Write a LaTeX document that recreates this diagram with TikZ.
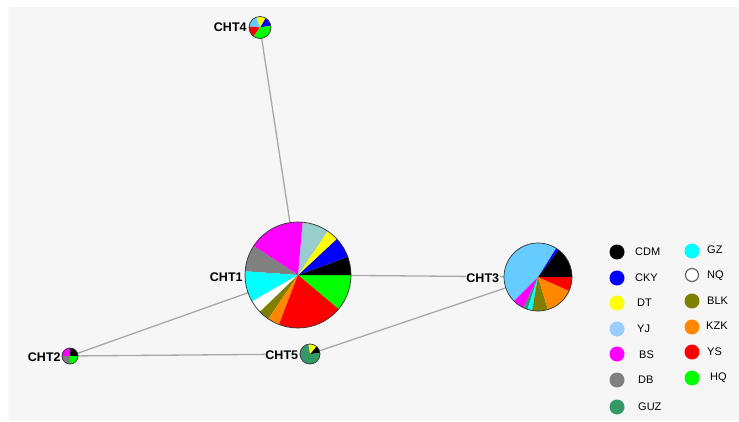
\documentclass[tikz,border=0pt]{standalone}
\usepackage{fontspec}
\setmainfont{Liberation Sans}
\definecolor{bg}{HTML}{F6F6F6}
\definecolor{edgec}{HTML}{A8A8A8}
\definecolor{cCDM}{HTML}{000000}
\definecolor{cCKY}{HTML}{0000FF}
\definecolor{cDT}{HTML}{FFFF00}
\definecolor{cYJ}{HTML}{99CCFF}
\definecolor{cYJa}{HTML}{99CCCC}
\definecolor{cYJb}{HTML}{66CCFF}
\definecolor{cBS}{HTML}{FF00FF}
\definecolor{cGUZ}{HTML}{339966}
\definecolor{cBLK}{HTML}{808000}
\definecolor{cKZK}{HTML}{FF8800}
\definecolor{cYS}{HTML}{FF0000}
\definecolor{cDB}{HTML}{808080}
\definecolor{cHQ}{HTML}{00FF00}
\definecolor{cGZ}{HTML}{00FFFF}
\newcommand\pieslice[5]{\fill[#5] (#1.center) -- ++(#3:#2) arc[start angle=#3,end angle=#4,radius=#2] -- cycle;}
\tikzset{
  hap/.style={circle,inner sep=0pt,minimum size=#1},
  link/.style={draw=edgec,line width=1.3pt},
  pieout/.style={draw=black!80,line width=0.7pt},
  lbl/.style={font=\bfseries\fontsize{12.5}{14}\selectfont,fill=bg,inner sep=0.5pt,anchor=east},
  legdot/.style={circle,inner sep=0pt,minimum size=15pt},
  legtxt/.style={font=\fontsize{11}{13}\selectfont,anchor=west,inner sep=0pt}
}
\begin{document}
\begin{tikzpicture}[x=1pt,y=1pt]
\useasboundingbox (0,0) rectangle (739,421);
\fill[white] (0,0) rectangle (739,421);
\fill[bg] (9,1) rectangle (739,414);
% node placeholders
\node[hap=106pt] (c1) at (298,146) {};
\node[hap=68pt] (c3) at (538,144) {};
\node[hap=22pt] (c4) at (260,393.5) {};
\node[hap=16pt] (c2) at (70,65) {};
\node[hap=20pt] (c5) at (310,67) {};
% edges
\draw[link] (c4.center) -- (c1.center);
\draw[link] (c1.center) -- (c3.center);
\draw[link] (c2.center) -- (c1.center);
\draw[link] (c2.center) -- (c5.center);
\draw[link] (c5.center) -- (c3.center);
% CHT1
\pieslice{c1}{53}{-40}{0}{cHQ}
\pieslice{c1}{53}{0}{20}{cCDM}
\pieslice{c1}{53}{20}{43}{cCKY}
\pieslice{c1}{53}{43}{56}{cDT}
\pieslice{c1}{53}{56}{85}{cYJa}
\pieslice{c1}{53}{85}{147}{cBS}
\pieslice{c1}{53}{147}{176}{cDB}
\pieslice{c1}{53}{176}{210}{cGZ}
\pieslice{c1}{53}{210}{224}{white}
\pieslice{c1}{53}{224}{236}{cBLK}
\pieslice{c1}{53}{236}{249}{cKZK}
\pieslice{c1}{53}{249}{320}{cYS}
\draw[pieout] (c1.center) circle[radius=53];
% CHT3
\pieslice{c3}{34}{0}{53}{cCDM}
\pieslice{c3}{34}{53}{58}{cCKY}
\pieslice{c3}{34}{58}{225}{cYJb}
\pieslice{c3}{34}{225}{245}{cBS}
\pieslice{c3}{34}{245}{252}{cGUZ}
\pieslice{c3}{34}{252}{260}{cGZ}
\pieslice{c3}{34}{260}{287}{cBLK}
\pieslice{c3}{34}{287}{336}{cKZK}
\pieslice{c3}{34}{336}{360}{cYS}
\draw[pieout] (c3.center) circle[radius=34];
% CHT4
\pieslice{c4}{11}{10}{60}{cCKY}
\pieslice{c4}{11}{60}{110}{cDT}
\pieslice{c4}{11}{110}{175}{cYJb}
\pieslice{c4}{11}{175}{235}{cYS}
\pieslice{c4}{11}{235}{370}{cHQ}
\draw[pieout] (c4.center) circle[radius=11];
% CHT2
\pieslice{c2}{8}{0}{90}{cCDM}
\pieslice{c2}{8}{90}{180}{cBS}
\pieslice{c2}{8}{180}{270}{cDB}
\pieslice{c2}{8}{270}{360}{cHQ}
\draw[pieout] (c2.center) circle[radius=8];
% CHT5
\pieslice{c5}{10}{5}{50}{cCDM}
\pieslice{c5}{10}{50}{100}{cDT}
\pieslice{c5}{10}{100}{365}{cGUZ}
\draw[pieout] (c5.center) circle[radius=10];
% labels
\node[lbl] (l1) at ([xshift=-1.5pt,yshift=-2pt]c1.west) {CHT1};
\node[lbl] (l3) at ([xshift=-4pt,yshift=-1pt]c3.west) {CHT3};
\node[lbl] (l4) at ([xshift=-1.5pt]c4.west) {CHT4};
\node[lbl] (l2) at ([xshift=-0.5pt,yshift=-1pt]c2.west) {CHT2};
\node[lbl] (l5) at ([xshift=-1pt,yshift=-1pt]c5.west) {CHT5};
% legend left column
\node[legdot,fill=cCDM] (kCDM) at (617,169) {};
\node[legtxt] (tCDM) at (635,169) {CDM};
\node[legdot,fill=cCKY] (kCKY) at (617,143) {};
\node[legtxt] (tCKY) at (635,143) {CKY};
\node[legdot,fill=cDT] (kDT) at (617,118) {};
\node[legtxt] (tDT) at (637,118) {DT};
\node[legdot,fill=cYJ] (kYJ) at (617,92) {};
\node[legtxt] (tYJ) at (637,92) {YJ};
\node[legdot,fill=cBS] (kBS) at (617,67) {};
\node[legtxt] (tBS) at (639,66) {BS};
\node[legdot,fill=cDB] (kDB) at (617,41) {};
\node[legtxt] (tDB) at (638,41) {DB};
\node[legdot,fill=cGUZ] (kGUZ) at (617,14) {};
\node[legtxt] (tGUZ) at (638,14) {GUZ};
% legend right column
\node[legdot,fill=cGZ] (kGZ) at (692,170) {};
\node[legtxt] (tGZ) at (707,171) {GZ};
\node[legdot,fill=white,draw=black!60,line width=1.2pt,minimum size=13pt] (kNQ) at (692,146) {};
\node[legtxt] (tNQ) at (707,145) {NQ};
\node[legdot,fill=cBLK] (kBLK) at (692,120) {};
\node[legtxt] (tBLK) at (707,120) {BLK};
\node[legdot,fill=cKZK] (kKZK) at (692,94) {};
\node[legtxt] (tKZK) at (706,95) {KZK};
\node[legdot,fill=cYS] (kYS) at (692,69) {};
\node[legtxt] (tYS) at (707,69) {YS};
\node[legdot,fill=cHQ] (kHQ) at (692,43) {};
\node[legtxt] (tHQ) at (710,43) {HQ};
\end{tikzpicture}
\end{document}
